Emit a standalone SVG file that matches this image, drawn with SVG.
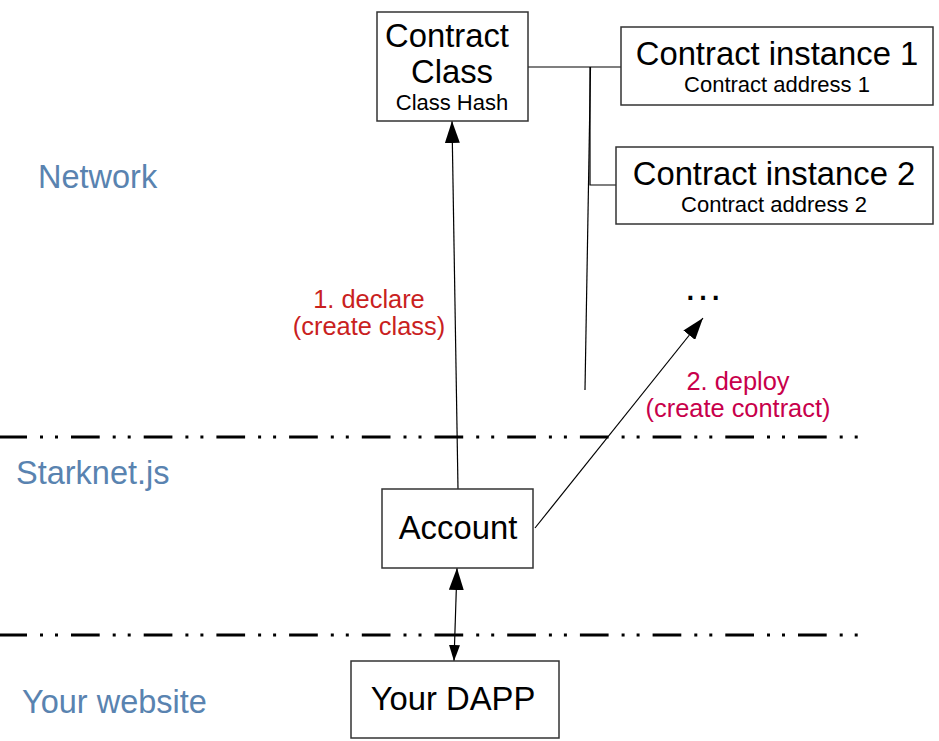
<svg xmlns="http://www.w3.org/2000/svg" width="939" height="741" viewBox="0 0 939 741">
<style>
.box{fill:#fff;stroke:#333;stroke-width:1.5}
.t{font-family:"Liberation Sans",Arial,sans-serif;fill:#000;text-anchor:middle}
.big{font-size:32.8px}
.sm{font-size:22px}
.layer{font-family:"Liberation Sans",Arial,sans-serif;font-size:32.5px;fill:#5983b0}
.lbl{font-family:"Liberation Sans",Arial,sans-serif;font-size:25.4px;text-anchor:middle}
.sep{stroke:#000;stroke-width:3;fill:none;stroke-dasharray:28.7 13 3 12 3 13}
.c{stroke:#000;stroke-width:1.2;fill:none}
</style>
<defs>
<marker id="ah" markerUnits="userSpaceOnUse" markerWidth="22" markerHeight="15" refX="22" refY="7.5" orient="auto" viewBox="0 0 22 15">
<path d="M0,0 L22,7.5 L0,15 z" fill="#000"/>
</marker>
<marker id="ahs" markerUnits="userSpaceOnUse" markerWidth="16" markerHeight="11" refX="0" refY="5.5" orient="auto" viewBox="0 0 16 11">
<path d="M16,0 L0,5.5 L16,11 z" fill="#000"/>
</marker>
</defs>
<rect width="939" height="741" fill="#fff"/>

<g id="separators">
<line class="sep" x1="-1.7" y1="437" x2="859" y2="437"/>
<line class="sep" x1="-1.7" y1="635" x2="859" y2="635"/>
</g>

<g id="layers">
<text class="layer" x="38" y="188">Network</text>
<text class="layer" x="16" y="484">Starknet.js</text>
<text class="layer" x="22" y="713">Your website</text>
</g>

<g id="connectors">
<line class="c" x1="528" y1="67" x2="621" y2="67"/>
<polyline class="c" points="590,67 590,185 616,185"/>
<line class="c" x1="590.5" y1="67" x2="585" y2="390"/>
<line class="c" x1="458" y1="489" x2="452" y2="121" marker-end="url(#ah)"/>
<line class="c" x1="535" y1="528" x2="703" y2="318" marker-end="url(#ah)"/>
<line class="c" x1="454" y1="661" x2="457" y2="568" marker-end="url(#ah)" marker-start="url(#ahs)"/>
</g>

<g id="contract-class">
<rect class="box" x="377" y="12" width="151" height="109"/>
<text class="t big" x="447" y="47">Contract</text>
<text class="t big" x="452" y="83">Class</text>
<text class="t sm" x="452" y="110">Class Hash</text>
</g>

<g id="instance-1">
<rect class="box" x="621" y="27" width="312" height="78"/>
<text class="t big" x="777" y="65">Contract instance 1</text>
<text class="t sm" x="777" y="92">Contract address 1</text>
</g>

<g id="instance-2">
<rect class="box" x="616" y="147" width="317" height="77"/>
<text class="t big" x="774" y="185">Contract instance 2</text>
<text class="t sm" x="774" y="212">Contract address 2</text>
</g>

<g id="more">
<text class="t" x="703" y="300" style="font-size:40px">…</text>
</g>

<g id="account">
<rect class="box" x="382" y="489" width="151" height="79"/>
<text class="t big" x="458" y="539">Account</text>
</g>

<g id="dapp">
<rect class="box" x="351" y="661" width="208" height="77"/>
<text class="t big" x="453" y="710">Your DAPP</text>
</g>

<g id="labels">
<text class="lbl" x="369" y="308" fill="#c9211e">1. declare</text>
<text class="lbl" x="369" y="335" fill="#c9211e">(create class)</text>
<text class="lbl" x="738" y="390" fill="#c8004b">2. deploy</text>
<text class="lbl" x="738" y="417" fill="#c8004b">(create contract)</text>
</g>
</svg>
